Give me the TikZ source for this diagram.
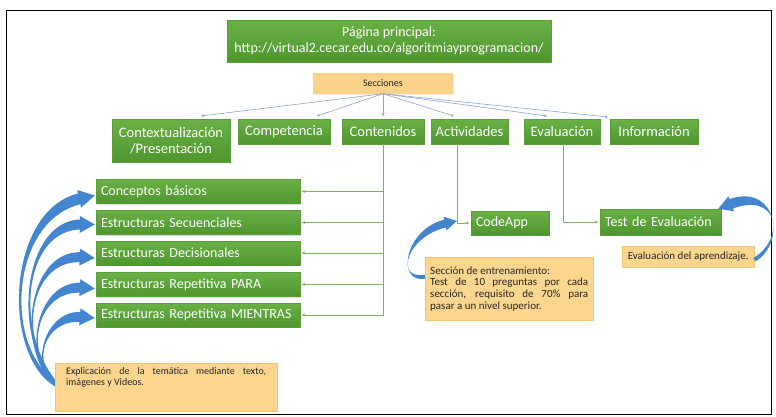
\documentclass[tikz,border=0pt]{standalone}
\usepackage{fontspec}
\setmainfont{Carlito}
\usetikzlibrary{arrows.meta,shadows,calc}

\definecolor{gtop}{HTML}{69B045}
\definecolor{gbot}{HTML}{4F962F}
\definecolor{gedge}{HTML}{5C9C3B}
\definecolor{notefill}{HTML}{FCD68E}
\definecolor{noteedge}{HTML}{F4C570}
\definecolor{secfill}{HTML}{FAD28A}
\definecolor{sline}{HTML}{8CA4CE}
\definecolor{gline}{HTML}{7AB15A}
\definecolor{barrow}{HTML}{4386CF}

% tapered curved block arrow:
% #1 start, #2 first control, #3 second control, #4 tip,
% #5 half width at start, #6 half width at head, #7 head length, #8 head half width
\newcommand\bluebend[8]{%
  \coordinate (tS) at #1;
  \coordinate (tA) at #2;
  \coordinate (tB) at #3;
  \coordinate (tE) at #4;
  \coordinate (tH) at ($(tE)!#7!(tB)$);
  \coordinate (tEb) at ($(tE)!#7-2pt!(tB)$);
  \fill[barrow] ($(tS)!#5!90:(tA)$) .. controls ($(tA)!#5!-90:(tS)$) and ($(tB)!#6!90:(tEb)$) .. ($(tEb)!#6!-90:(tB)$)
    -- ($(tEb)!#6!90:(tB)$) .. controls ($(tB)!#6!-90:(tEb)$) and ($(tA)!#5!90:(tS)$) .. ($(tS)!#5!-90:(tA)$) -- cycle;
  \fill[barrow] (tE) -- ($(tH)!#8!90:(tE)$) -- ($(tH)!#8!-90:(tE)$) -- cycle;
}

\begin{document}
\begin{tikzpicture}[x=1pt,y=-1pt,
  gbox/.style={rectangle, draw=gedge, line width=0.4pt, top color=gtop, bottom color=gbot,
    text=white, inner sep=0pt, font=\fontsize{14}{15.5}\selectfont,
    drop shadow={opacity=0.3, shadow xshift=1pt, shadow yshift=-1pt}},
  rowbox/.style={gbox, font=\fontsize{14.5}{16}\selectfont, minimum height=25pt},
  lbox/.style={gbox, minimum width=#1, text width=#1-10pt, align=left, minimum height=24pt},
  notebox/.style={rectangle, draw=noteedge, line width=0.4pt, fill=notefill,
    font=\fontsize{11}{11.7}\selectfont, text=black!85, inner sep=5pt,
    drop shadow={opacity=0.2, shadow xshift=1pt, shadow yshift=-1pt}},
  secarrow/.style={draw=sline, line width=0.6pt, -{Stealth[length=3pt,width=3pt]}},
  grarrow/.style={draw=gline, line width=0.6pt, -{Stealth[length=3.5pt,width=3pt]}, shorten >=1.5pt}
]
\useasboundingbox (0,0) rectangle (776,416);

% frame
\draw[line width=1pt] (6,10) rectangle (771,414);

% main page and sections
\node[gbox, minimum width=324pt, minimum height=42pt, align=center] (main) at (389,41)
  {Página principal:\\http://virtual2.cecar.edu.co/algoritmiayprogramacion/};
\node[rectangle, fill=secfill, minimum width=140pt, minimum height=21pt,
  font=\fontsize{10}{11}\selectfont, text=black!85,
  drop shadow={opacity=0.15, shadow xshift=1pt, shadow yshift=-1pt}] (sec) at (383,83) {Secciones};

% section boxes
\node[rowbox, minimum width=118pt, minimum height=43pt, align=center] (ctx) at (171,140.5)
  {Contextualización\\/Presentación};
\node[rowbox, minimum width=92pt] (comp) at (284,131.5) {Competencia};
\node[rowbox, minimum width=82pt] (cont) at (383,131.5) {Contenidos};
\node[rowbox, minimum width=77pt] (act) at (469.5,131.5) {Actividades};
\node[rowbox, minimum width=76pt] (eva) at (562,131.5) {Evaluación};
\node[rowbox, minimum width=88pt] (inf) at (654,131.5) {Información};

% entry points of the section connectors
\coordinate (ctxin) at (201,116);
\coordinate (compin) at (317,116);
\coordinate (contin) at (383,116);
\coordinate (actin) at (454,116);
\coordinate (evain) at (547,116);
\coordinate (infin) at (608,117);

\draw[secarrow] (sec.south) -- (ctxin);
\draw[secarrow] (sec.south) -- (compin);
\draw[secarrow] (sec.south) -- (contin);
\draw[secarrow] (sec.south) -- (actin);
\draw[secarrow] (sec.south) -- (evain);
\draw[secarrow] (sec.south) -- (infin);

% content topics
\node[lbox=204pt] (b1) at (198,191.5) {Conceptos básicos};
\node[lbox=204pt] (b2) at (198,222.5) {Estructuras Secuenciales};
\node[lbox=204pt] (b3) at (198,253) {Estructuras Decisionales};
\node[lbox=204pt] (b4) at (198,284.5) {Estructuras Repetitiva PARA};
\node[lbox=204pt] (b5) at (198,315) {Estructuras Repetitiva MIENTRAS};

\draw[grarrow] (cont.south) |- (b1.east);
\draw[grarrow] (cont.south) |- (b2.east);
\draw[grarrow] (cont.south) |- (b3.east);
\draw[grarrow] (cont.south) |- (b4.east);
\draw[grarrow] (cont.south) |- (b5.east);

% activities and evaluation
\node[lbox=78pt, minimum height=24pt] (code) at (510,223) {CodeApp};
\node[lbox=121pt, minimum height=26pt] (test) at (660.5,222) {Test de Evaluación};

\draw[grarrow] ([xshift=-12pt]act.south) |- (code.west);
\draw[grarrow] ([xshift=1pt]eva.south) |- (test.west);

% blue curved arrows towards the topics
\bluebend{(56,384)}{(2,352)}{(8,214)}{([xshift=-1pt,yshift=-4pt]b1.west)}{2.5pt}{5.5pt}{16pt}{9pt}
\bluebend{(56,384)}{(12,332)}{(24,224)}{([xshift=-1pt,yshift=-2pt]b2.west)}{2pt}{5pt}{15pt}{8.5pt}
\bluebend{(56,384)}{(16,347)}{(28,254)}{([xshift=-1pt,yshift=-5pt]b3.west)}{2pt}{5pt}{15pt}{8.5pt}
\bluebend{(56,384)}{(22,357)}{(36,285)}{([xshift=-1pt,yshift=-4pt]b4.west)}{2pt}{5pt}{15pt}{8.5pt}
\bluebend{(56,384)}{(30,366)}{(44,314)}{([xshift=-1pt,yshift=-3pt]b5.west)}{2pt}{5pt}{15pt}{8.5pt}

% notes
\node[notebox, minimum width=222pt, text width=200pt, align=justify,
  font=\fontsize{10}{11}\selectfont, inner xsep=8pt, inner ysep=4pt,
  text depth=33pt, anchor=north west] (expl) at (55,363)
  {Explicación de la temática mediante texto,\linebreak imágenes y Videos.};
\node[notebox, minimum width=168pt, minimum height=63pt, text width=158pt, align=justify,
  anchor=north west] (snote) at (425,257)
  {Sección de entrenamiento:\\Test de 10 preguntas por cada\linebreak sección, requisito de 70\% para\linebreak pasar a un nivel superior.};
\node[notebox, minimum width=132pt, minimum height=21pt, anchor=north west] (enote) at (622,246)
  {Evaluación del aprendizaje.};

% blue curved arrows from the notes
\bluebend{([yshift=12pt]snote.west)}{(395,282)}{(405,232)}{([xshift=-14pt,yshift=2pt]code.west)}{2pt}{4pt}{12pt}{7pt}
\bluebend{([yshift=-3pt]enote.east)}{(787,240)}{(777,186)}{([xshift=-3pt]test.north east)}{2pt}{5pt}{14pt}{8pt}
\end{tikzpicture}
\end{document}
